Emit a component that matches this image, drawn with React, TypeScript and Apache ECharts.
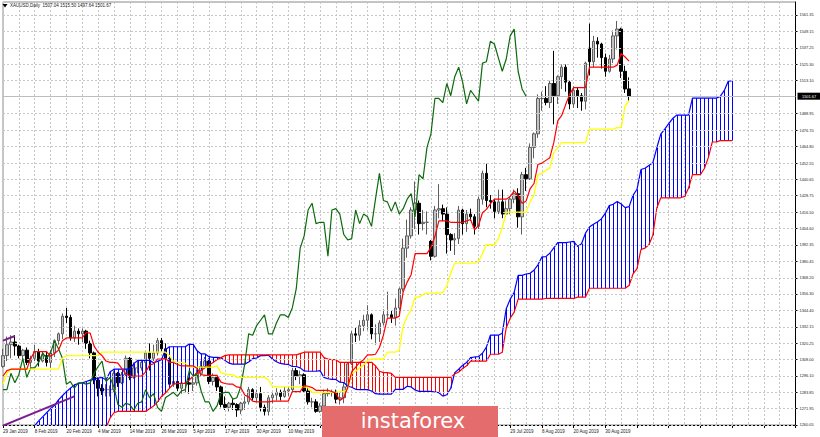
import React, { useEffect, useRef } from "react";
import * as echarts from "echarts";

// ---- Daily XAUUSD bars (index 0 = 29 Jan 2019, index 158 = 9 Sep 2019) ----
const open = [
  1303,1311,1319,1321,1318,1311,1315,1306,1309,1314,
  1307,1311,1306,1313,1322,1327,1340,1339,1324,1329,
  1327,1329,1320,1313,1293,1287,1286,1286,1286,1298,
  1291,1297,1309,1295,1302,1302,1306,1313,1309,1313,
  1322,1316,1309,1290,1292,1287,1291,1291,1290,1291,
  1298,1303,1307,1292,1295,1288,1275,1273,1276,1275,
  1271,1276,1277,1286,1280,1283,1273,1270,1280,1282,
  1284,1281,1285,1286,1300,1296,1297,1285,1277,1277,
  1270,1274,1283,1284,1284,1279,1280,1288,1305,1327,
  1326,1333,1337,1341,1327,1327,1335,1341,1341,1339,
  1346,1360,1390,1399,1418,1423,1408,1409,1395,1384,
  1418,1419,1415,1400,1396,1397,1418,1408,1415,1413,
  1406,1426,1445,1425,1424,1417,1424,1415,1419,1426,
  1430,1413,1444,1441,1464,1474,1500,1500,1497,1511,
  1502,1516,1523,1512,1496,1506,1502,1498,1537,1527,
  1542,1540,1530,1520,1529,1546,1551,1520,1507.04,
];
const high = [
  1316,1325,1326,1326,1319,1316,1317,1311,1319,1316,
  1314,1314,1315,1323,1328,1342,1346,1341,1333,1331,
  1331,1330,1322,1314,1295,1290,1290,1289,1300,1299,
  1299,1311,1310,1306,1307,1308,1314,1320,1319,1324,
  1324,1320,1311,1298,1299,1295,1297,1295,1296,1301,
  1307,1310,1309,1298,1295,1289,1281,1277,1279,1276,
  1277,1281,1288,1287,1286,1288,1275,1282,1284,1287,
  1286,1288,1288,1302,1302,1300,1298,1287,1280,1279,
  1276,1286,1287,1286,1286,1284,1291,1306,1329,1332,
  1337,1341,1348,1342,1334,1337,1345,1358,1344,1353,
  1361,1397,1411,1420,1439,1425,1418,1417,1396,1421,
  1437,1422,1420,1401,1401,1421,1419,1418,1419,1415,
  1428,1447,1452,1429,1426,1433,1433,1425,1428,1433,
  1434,1446,1449,1467,1475,1503,1505,1509,1513,1535,
  1517,1525,1525,1513,1509,1508,1504,1527,1555,1546,
  1545,1541,1533,1532,1550,1557,1552,1524,1515.5,
];
const low = [
  1302,1307,1309,1311,1309,1308,1304,1302,1307,1303,
  1306,1303,1302,1310,1319,1323,1335,1322,1321,1319,
  1321,1316,1309,1290,1281,1282,1281,1281,1284,1288,
  1290,1296,1293,1294,1298,1300,1299,1300,1307,1311,
  1314,1307,1288,1288,1285,1283,1284,1283,1285,1289,
  1296,1302,1290,1289,1285,1273,1271,1270,1271,1266,
  1268,1271,1275,1278,1277,1270,1267,1267,1276,1278,
  1278,1280,1281,1284,1293,1290,1284,1275,1273,1269,
  1269,1273,1281,1281,1276,1275,1276,1286,1304,1321,
  1322,1329,1330,1323,1319,1321,1333,1339,1335,1333,
  1342,1358,1383,1397,1404,1400,1403,1400,1381,1383,
  1412,1410,1386,1388,1385,1393,1400,1402,1410,1400,
  1404,1422,1420,1419,1412,1415,1412,1413,1415,1423,
  1405,1400,1432,1440,1456,1471,1491,1495,1493,1481,
  1496,1507,1505,1492,1493,1493,1491,1492,1517,1523,
  1530,1522,1516,1519,1526,1536,1515,1504,1497.64,
];
const close = [
  1311,1319,1321,1318,1311,1315,1306,1309,1314,1307,
  1311,1306,1313,1322,1327,1340,1339,1324,1329,1327,
  1329,1320,1313,1293,1287,1285,1286,1286,1298,1291,
  1297,1309,1295,1302,1302,1306,1313,1309,1313,1322,
  1316,1309,1290,1292,1287,1291,1291,1290,1291,1298,
  1303,1307,1292,1295,1288,1275,1273,1276,1275,1271,
  1276,1277,1286,1280,1283,1273,1270,1280,1282,1284,
  1281,1285,1286,1300,1296,1297,1285,1277,1277,1270,
  1274,1283,1284,1284,1279,1280,1288,1305,1327,1326,
  1333,1337,1341,1327,1327,1335,1341,1341,1339,1346,
  1360,1390,1399,1418,1423,1408,1409,1409,1384,1418,
  1419,1415,1400,1396,1397,1418,1408,1415,1413,1406,
  1426,1445,1425,1424,1417,1424,1415,1419,1426,1430,
  1413,1444,1441,1464,1474,1500,1500,1497,1511,1502,
  1516,1523,1512,1496,1506,1502,1498,1526,1527,1542,
  1540,1530,1520,1529,1546,1551,1520,1507,1501.67,
];

// ---- Ichimoku lines ----
const tenkan = [
  1296,1300,1301,1301,1301,1301,1301,1309,1314,1314,
  1314,1314,1310.5,1312.5,1315,1322,1324,1324,1324,1324,
  1324,1328,1327.5,1318,1313.5,1311,1307,1306,1306,1305.5,
  1301.5,1297.5,1296,1296,1296,1296,1299,1304,1305,1308.5,
  1308.5,1309,1306,1306,1304.5,1303.5,1303.5,1303.5,1303.5,1301.5,
  1297,1296.5,1296.5,1296.5,1296.5,1291.5,1290.5,1290,1290,1288,
  1287.5,1282,1280.5,1277.5,1277,1277,1277,1277,1277.5,1277.5,
  1277.5,1277.5,1277.5,1284.5,1284.5,1284.5,1289,1288.5,1287.5,1285.5,
  1285.5,1285.5,1285.5,1284.5,1283.5,1278,1280,1287.5,1299,1302.5,
  1306,1308,1311.5,1311.5,1312,1317,1326,1338.5,1338.5,1338.5,
  1340,1358,1365,1370.5,1386,1386,1386,1386,1390.5,1398.5,
  1410,1410,1410,1409,1409,1409,1409,1410,1411,1403.5,
  1406.5,1416,1418.5,1422.5,1426,1426,1426,1426,1428,1432,
  1428.5,1423,1424.5,1433.5,1437.5,1451.5,1452.5,1454.5,1456.5,1467.5,
  1483.5,1487.5,1495.5,1503,1508,1508,1508,1508,1523,1523,
  1523,1523,1523,1523,1523,1524.5,1533,1530.5,1527.5,
];
const kijun = [
  1290,1298,1301,1301,1301,1301,1301,1301,1301,1301,
  1301,1301,1301,1301,1301,1309,1311,1311,1311,1311,
  1311,1311,1311,1311,1311,1313.5,1313.5,1313.5,1313.5,1313.5,
  1313.5,1313.5,1313.5,1313.5,1313.5,1313.5,1313.5,1313.5,1313.5,1313.5,
  1313.5,1313.5,1311,1307,1306,1306,1305.5,1302.5,1302.5,1302.5,
  1302.5,1302.5,1302.5,1302.5,1303.5,1298.5,1297.5,1297,1297,1295,
  1295,1295,1295,1295,1295,1295,1295,1293,1288.5,1288,
  1288,1288,1288,1288,1288,1288,1288,1287.5,1284,1284,
  1284,1284,1284,1284,1284,1284.5,1284.5,1286.5,1298,1299.5,
  1302,1304,1307.5,1308.5,1308.5,1308.5,1308.5,1313.5,1313.5,1313.5,
  1315,1333,1340,1344.5,1354,1354,1356,1357,1357,1357,
  1357,1357.5,1362.5,1371.5,1379,1379,1379,1379,1379,1379,
  1380,1386,1392.5,1392.5,1392.5,1397,1405,1416.5,1416.5,1416.5,
  1416.5,1416.5,1416.5,1424,1429,1444,1445,1447,1449,1460,
  1464,1467.5,1467.5,1467.5,1467.5,1467.5,1467.5,1467.5,1477.5,1477.5,
  1477.5,1477.5,1477.5,1477.5,1477.5,1478.5,1478.5,1494.5,1498.5,
];
// Senkou spans, indexed on the same bar axis (extends 26 bars past the last bar)
const spanA = [
  null,null,null,null,null,null,null,null,
  1259.5,1263,1266,1269,1272,1274.5,1278.5,1281.5,1284.5,1287,
  1289.5,1290.5,1291,1292,1293,1294,1294.5,1295,
  1293,1299,1301,1301,1301,1301,1301,1305,1307.5,1307.5,
  1307.5,1307.5,1305.75,1306.75,1308,1315.5,1317.5,1317.5,1317.5,1317.5,
  1317.5,1319.5,1319.25,1314.5,1312.25,1312.25,1310.25,1309.75,1309.75,1309.5,
  1307.5,1305.5,1304.75,1304.75,1304.75,1304.75,1306.25,1308.75,1309.25,1311,
  1311,1311.25,1308.5,1306.5,1305.25,1304.75,1304.5,1303,1303,1302,
  1299.75,1299.5,1299.5,1299.5,1300,1295,1294,1293.5,1293.5,1291.5,
  1291.25,1288.5,1287.75,1286.25,1286,1286,1286,1285,1283,1282.75,
  1282.75,1282.75,1282.75,1286.25,1286.25,1286.25,1288.5,1288,1285.75,1284.75,
  1284.75,1284.75,1284.75,1284.25,1283.75,1281.25,1282.25,1287,1298.5,1301,
  1304,1306,1309.5,1310,1310.25,1312.75,1317.25,1326,1326,1326,
  1327.5,1345.5,1352.5,1357.5,1370,1370,1371,1371.5,1373.75,1377.75,
  1383.5,1383.75,1386.25,1390.25,1394,1394,1394,1394.5,1395,1391.25,
  1393.25,1401,1405.5,1407.5,1409.25,1411.5,1415.5,1421.25,1422.25,1424.25,
  1422.5,1419.75,1420.5,1428.75,1433.25,1447.75,1448.75,1450.75,1452.75,1463.75,
  1473.75,1477.5,1481.5,1485.25,1487.75,1487.75,1487.75,1487.75,1500.25,1500.25,
  1500.25,1500.25,1500.25,1500.25,1500.25,1501.5,1505.75,1512.5,1513,
];
const spanB = [
  null,null,null,null,null,null,null,null,
  1248,1248,1248,1248,1248,1248,1248,1248,1248,
  1250,1250,1250,1250,1250,1250,1250,1250,1250,
  1258,1265,1269,1270,1270,1270,1270,1270,1270,1270,
  1270,1272,1274,1277,1281,1283.5,1287,1290,1290.5,1290.5,
  1290.5,1293,1296,1298,1300,1302,1304,1306,1308,1309.5,
  1311,1311.5,1311.5,1311.5,1311.5,1311.5,1311.5,1311.5,1311.5,1311.5,
  1311.5,1311.5,1311.5,1311.5,1311.5,1311.5,1311.5,1311.5,1311.5,1312.5,
  1313.5,1313.5,1313.5,1313.5,1313.5,1309.5,1308.5,1308,1308,1306,
  1306,1306,1306,1306,1306,1306,1306,1306,1303.5,1299.5,
  1298.5,1298.5,1298,1295,1295,1295,1295,1295,1295,1295,
  1295,1295,1295,1295,1295,1295,1295,1295,1297.5,1299,
  1301.5,1303.5,1307,1307,1307,1307,1307,1312,1312,1312,
  1313.5,1331.5,1338.5,1343,1352.5,1352.5,1352.5,1352.5,1352.5,1352.5,
  1352.5,1353,1353,1353,1353,1353,1353,1353,1353,1354,
  1354,1354,1360.5,1360.5,1360.5,1360.5,1360.5,1360.5,1360.5,1360.5,
  1360.5,1360.5,1362.5,1371,1375,1389,1390,1392.5,1399.5,1419.5,
  1427,1427,1427,1427,1427,1427,1428,1434,1444,1444,
  1444,1448.5,1456.5,1468,1468,1469,1469,1469,1469,
];
const CHIKOU_SHIFT = 26;

// date labels every 8 bars; the ones hidden behind the logo in the reference are blank
const dateLabels = [
  "29 Jan 2019","8 Feb 2019","20 Feb 2019","4 Mar 2019","14 Mar 2019",
  "26 Mar 2019","5 Apr 2019","17 Apr 2019","30 Apr 2019","10 May 2019",
  "","","","","",
  "","29 Jul 2019","8 Aug 2019","20 Aug 2019","30 Aug 2019",
];
const priceTicks = [
  1561.35,1549.15,1537.25,1525.30,1513.10,1488.95,1476.70,1464.80,1452.55,
  1440.65,1428.75,1416.50,1404.60,1392.35,1380.45,1368.20,1356.30,1344.40,
  1332.15,1320.25,1308.00,1296.10,1283.85,1271.95,1260.05,
];
const lastPrice = 1501.67;
const headerText = "XAUUSD,Daily  1507.04 1515.50 1497.64 1501.67";
const trendLower = [[0, 1259.5], [18, 1281]];
const trendUpper = [[0, 1322], [3, 1325.4]];
const SLOTS = 201;

export default function App() {
  const ref = useRef<HTMLDivElement>(null);
  useEffect(() => {
    if (!ref.current) return;
    const chart = echarts.init(ref.current, null, { renderer: "svg" });
    const cats = Array.from({ length: SLOTS }, (_, i) => String(i));
    const candles = open.map((o, i) => [o, close[i], low[i], high[i]]);
    const chikou = close.slice(CHIKOU_SHIFT);
    const cloud = spanA.map((a, j) => [j, a == null ? "-" : a, spanB[j] == null ? "-" : spanB[j]]);
    const small = "Liberation Sans";
    const lineBase = { type: "line", showSymbol: false, symbol: "none", silent: true, connectNulls: false };

    const option: any = {
      animation: false,
      backgroundColor: "#ffffff",
      grid: { left: 0.5, top: 2, width: 795, height: 423, show: true, borderColor: "#8a8a8a", borderWidth: 1 },
      xAxis: {
        type: "category",
        data: cats,
        boundaryGap: false,
        axisLine: { show: true, lineStyle: { color: "#000", width: 1 } },
        axisTick: { show: true, interval: 7, length: 3, lineStyle: { color: "#000" } },
        axisLabel: {
          interval: 7, align: "left", margin: 3.5, fontSize: 4.5, color: "#222", fontFamily: small,
          formatter: (_v: string, idx: number) => (idx % 8 === 0 && dateLabels[idx / 8]) || "",
        },
        splitLine: { show: true, interval: 3, lineStyle: { color: "#c6c6c6", type: [2, 2], width: 1 } },
      },
      yAxis: {
        type: "value", position: "right", min: 1260, max: 1570.9,
        axisLine: { show: true, onZero: false, lineStyle: { color: "#000" } },
        axisTick: { show: true, length: 2, customValues: priceTicks, lineStyle: { color: "#000" } },
        axisLabel: {
          customValues: priceTicks, margin: 4, fontSize: 3.9, color: "#222", fontFamily: small,
          formatter: (v: number) => v.toFixed(2),
        },
        splitLine: { show: false },
      },
      series: [
        {
          type: "line", data: [], silent: true, z: 1,
          markLine: {
            silent: true, symbol: ["none", "none"], label: { show: false },
            lineStyle: { color: "#c6c6c6", type: [2, 2], width: 1 },
            data: priceTicks.map((v) => ({ yAxis: v })),
          },
        },
        {
          type: "candlestick", data: candles, barWidth: 3, z: 2, silent: true,
          itemStyle: { color: "#c4c4c4", borderColor: "#5e5e5e", color0: "#000", borderColor0: "#000", borderWidth: 1 },
          markLine: {
            silent: true, symbol: ["none", "none"],
            lineStyle: { color: "#bdbdbd", type: "solid", width: 1 },
            label: {
              show: true, position: "end", distance: 2, formatter: lastPrice.toFixed(2),
              backgroundColor: "#000", color: "#fff", fontSize: 3.9, fontFamily: small, padding: [1.5, 4.5, 1.5, 4.5],
            },
            data: [{ yAxis: lastPrice }],
          },
        },
        {
          type: "custom", z: 3, silent: true, data: cloud, encode: { x: 0, y: [1, 2] },
          renderItem: (params: any, api: any) => {
            const j = api.value(0), a = api.value(1), b = api.value(2);
            if (a == null || b == null || isNaN(a) || isNaN(b)) return null;
            const pa = api.coord([j, a]);
            const pb = api.coord([j, b]);
            const cs = params.coordSys;
            const top = cs.y, bottom = cs.y + cs.height;
            const y1 = Math.max(top, Math.min(bottom, pa[1]));
            const y2 = Math.max(top, Math.min(bottom, pb[1]));
            const x = Math.round(pa[0]) + 0.5;
            return {
              type: "line",
              shape: { x1: x, y1, x2: x, y2 },
              style: { stroke: a >= b ? "#0000ff" : "#ff0000", lineWidth: 1 },
            };
          },
        },
        { ...lineBase, data: spanA, z: 4, lineStyle: { color: "#0000ff", width: 1.2 } },
        { ...lineBase, data: spanB, z: 4, lineStyle: { color: "#ff0000", width: 1.2 } },
        { ...lineBase, data: chikou, z: 5, lineStyle: { color: "#0b6a0b", width: 1.2 } },
        { ...lineBase, data: kijun, z: 5, lineStyle: { color: "#ffff00", width: 1.3 } },
        { ...lineBase, data: tenkan, z: 6, lineStyle: { color: "#ff0000", width: 1.2 } },
        { ...lineBase, data: trendLower, z: 7, lineStyle: { color: "#7b1f8e", width: 2 } },
        { ...lineBase, data: trendUpper, z: 7, lineStyle: { color: "#7b1f8e", width: 2 } },
      ],
      graphic: [
        { type: "polygon", shape: { points: [[2.5, 4], [7.5, 4], [5, 7.5]] }, style: { fill: "#000" }, z: 50 },
        {
          type: "text", x: 10, y: 3, z: 50,
          style: { text: headerText, font: `4.5px "${small}"`, fill: "#222" },
        },
        { type: "rect", shape: { x: 322, y: 406, width: 176, height: 31 }, style: { fill: "#e46c6c" }, z: 100 },
        {
          type: "text", x: 413, y: 421, z: 101,
          style: {
            text: "instaforex", font: '21px "DejaVu Sans"', fill: "#ffffff",
            align: "center", verticalAlign: "middle", textAlign: "center", textVerticalAlign: "middle",
          },
        },
      ],
    };
    chart.setOption(option);
    return () => chart.dispose();
  }, []);
  return <div ref={ref} style={{ position: "fixed", left: 0, top: 0, width: 820, height: 437 }} />;
}
